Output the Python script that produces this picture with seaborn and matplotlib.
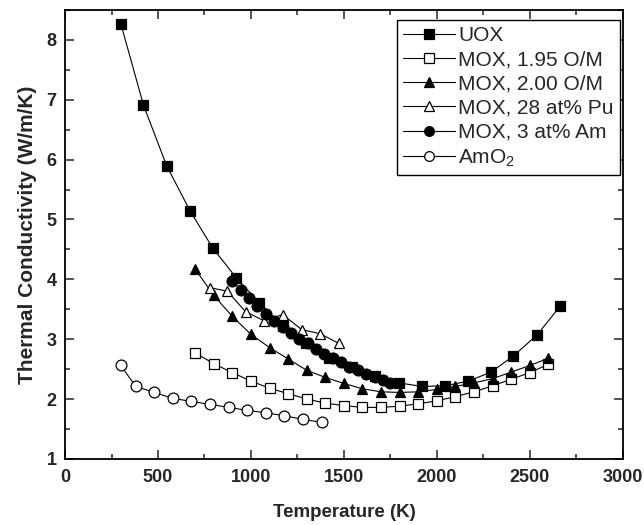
import matplotlib
matplotlib.use("Agg")
import matplotlib.pyplot as plt
import seaborn as sns
from matplotlib.ticker import MultipleLocator

# ---- data ----
uox_T = [300, 422, 546, 673, 795, 920, 1045, 1170, 1295, 1420, 1545, 1670,
         1795, 1920, 2045, 2170, 2292, 2412, 2539, 2663]
uox_k = [8.27, 6.91, 5.90, 5.14, 4.52, 4.03, 3.61, 3.22, 2.93, 2.69, 2.53, 2.39,
         2.27, 2.21, 2.22, 2.30, 2.45, 2.72, 3.07, 3.55]

mox195_T = [700, 800, 900, 1000, 1100, 1200, 1300, 1400, 1500, 1600, 1700,
            1800, 1900, 2000, 2100, 2200, 2300, 2400, 2500, 2600]
mox195_k = [2.77, 2.59, 2.44, 2.30, 2.18, 2.09, 2.00, 1.93, 1.89, 1.86, 1.86,
            1.88, 1.92, 1.97, 2.04, 2.12, 2.22, 2.33, 2.44, 2.58]

mox200_T = [700, 800, 900, 1000, 1100, 1200, 1300, 1400, 1500, 1600, 1700,
            1800, 1900, 2000, 2100, 2200, 2300, 2400, 2500, 2600]
mox200_k = [4.17, 3.73, 3.38, 3.08, 2.86, 2.67, 2.48, 2.36, 2.26, 2.17, 2.12,
            2.11, 2.12, 2.16, 2.21, 2.27, 2.34, 2.45, 2.56, 2.68]

mox28_T = [780, 873, 971, 1069, 1171, 1273, 1373, 1472]
mox28_k = [3.86, 3.80, 3.46, 3.31, 3.41, 3.16, 3.09, 2.93]

mox3am_T = [900, 945, 990, 1035, 1080, 1125, 1170, 1215, 1260, 1305, 1350,
            1395, 1440, 1485, 1530, 1575, 1620, 1665, 1710, 1750]
mox3am_k = [3.97, 3.82, 3.68, 3.55, 3.42, 3.31, 3.21, 3.10, 3.01, 2.93, 2.84,
            2.76, 2.68, 2.61, 2.54, 2.48, 2.42, 2.37, 2.32, 2.27]

amo2_T = [300, 380, 480, 580, 680, 780, 880, 980, 1080, 1180, 1280, 1380]
amo2_k = [2.56, 2.21, 2.11, 2.01, 1.96, 1.91, 1.86, 1.81, 1.77, 1.72, 1.66, 1.61]

x_ticks = [0, 500, 1000, 1500, 2000, 2500, 3000]
y_ticks = [1, 2, 3, 4, 5, 6, 7, 8]

series = [
    ("UOX", uox_T, uox_k, "s", "black"),
    ("MOX, 1.95 O/M", mox195_T, mox195_k, "s", "white"),
    ("MOX, 2.00 O/M", mox200_T, mox200_k, "^", "black"),
    ("MOX, 28 at% Pu", mox28_T, mox28_k, "^", "white"),
    ("MOX, 3 at% Am", mox3am_T, mox3am_k, "o", "black"),
    ("AmO$_2$", amo2_T, amo2_k, "o", "white"),
]

sns.set_style("ticks")
plt.rcParams["font.family"] = ["Liberation Sans", "DejaVu Sans"]
plt.rcParams["mathtext.fontset"] = "custom"
plt.rcParams["mathtext.rm"] = "Liberation Sans"

fig = plt.figure(figsize=(6.44, 5.25), dpi=100)
ax = fig.add_axes([0.101, 0.126, 0.866, 0.855])

for label, T, k, m, fc in series:
    sns.lineplot(x=T, y=k, ax=ax, label=label, color="black", linewidth=0.8,
                 marker=m, markersize=7.8,
                 markerfacecolor=fc, markeredgecolor="black",
                 markeredgewidth=0.9)

ax.set_xlim(0, 3000)
ax.set_ylim(1, 8.5)
ax.set_xticks(x_ticks)
ax.set_yticks(y_ticks)
ax.xaxis.set_minor_locator(MultipleLocator(250))
ax.yaxis.set_minor_locator(MultipleLocator(0.5))
ax.tick_params(which="both", direction="in", top=True, right=True, width=1.1,
               labelsize=13)
ax.tick_params(which="major", length=6.5)
ax.tick_params(axis="x", which="major", pad=7)
ax.tick_params(axis="y", which="major", pad=6)
ax.tick_params(which="minor", length=3.5)
for lab in ax.get_xticklabels() + ax.get_yticklabels():
    lab.set_fontweight("bold")
for s in ax.spines.values():
    s.set_linewidth(1.3)
    s.set_color("black")

ax.set_xlabel("Temperature (K)", fontsize=13.5, fontweight="bold", labelpad=13)
ax.set_ylabel("Thermal Conductivity (W/m/K)", fontsize=15, fontweight="bold",
              labelpad=7)

leg = ax.legend(loc="upper right", bbox_to_anchor=(0.995, 0.978),
                borderaxespad=0, fontsize=15, frameon=True, fancybox=False,
                edgecolor="black", framealpha=1, handlelength=2.5,
                handletextpad=0.15, labelspacing=0.25, borderpad=0.3)
leg.get_frame().set_linewidth(1.0)
for h in leg.legend_handles:
    h.set_markersize(7)

fig.savefig("out.png", dpi=100)
